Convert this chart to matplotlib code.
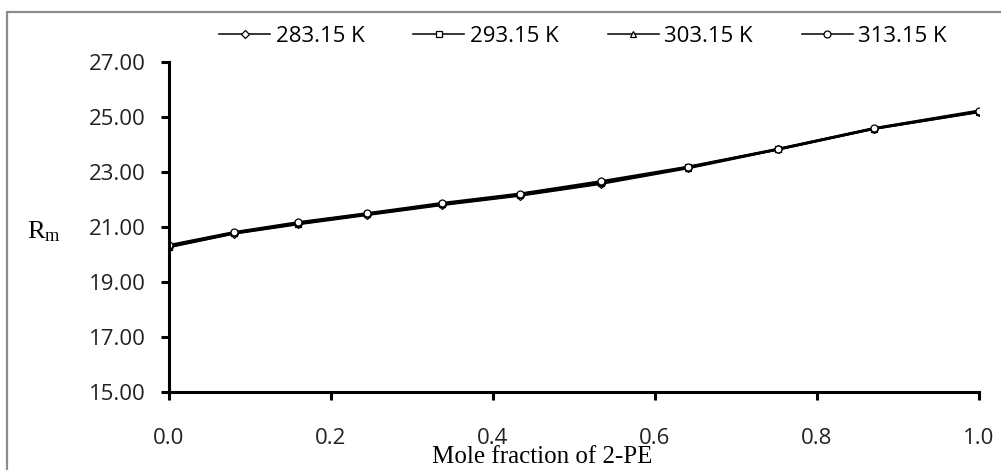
import matplotlib
matplotlib.use("Agg")
import matplotlib.pyplot as plt
from matplotlib.patches import Rectangle

plt.rcParams['mathtext.fontset'] = 'custom'
plt.rcParams['mathtext.rm'] = 'Liberation Serif'

# fraccion molar de 2-PE y R_m a cada temperatura
x = [0.0, 0.080, 0.159, 0.245, 0.337, 0.433, 0.533, 0.641, 0.752, 0.870, 1.0]
r_283 = [20.27, 20.76, 21.10, 21.44, 21.80, 22.14, 22.57, 23.14, 23.82, 24.57, 25.18]
r_293 = [20.28, 20.77, 21.12, 21.46, 21.82, 22.16, 22.59, 23.18, 23.82, 24.57, 25.19]
r_303 = [20.31, 20.79, 21.14, 21.48, 21.84, 22.19, 22.62, 23.16, 23.83, 24.58, 25.21]
r_313 = [20.34, 20.81, 21.17, 21.50, 21.87, 22.21, 22.66, 23.19, 23.84, 24.59, 25.23]
etiquetas = ['283.15 K', '293.15 K', '303.15 K', '313.15 K']
marcadores = ['D', 's', '^', 'o']
x_ticks = [0.0, 0.2, 0.4, 0.6, 0.8, 1.0]
y_ticks = [15, 17, 19, 21, 23, 25, 27]

fig = plt.figure(figsize=(10.01, 4.70), dpi=100)
ax = fig.add_axes([0.1688, 0.166, 0.809, 0.702])

# marco gris exterior
fig.patches.append(Rectangle((0.007, -0.05), 1.2, 1.024, transform=fig.transFigure,
                             fill=False, edgecolor='#8c8c8c', linewidth=1.6))

for serie, lab, m in zip([r_283, r_293, r_303, r_313], etiquetas, marcadores):
    ax.plot(x, serie, color='black', linewidth=1.7, marker=m,
            markersize=5 if m != 'D' else 4, markerfacecolor='white',
            markeredgecolor='black', markeredgewidth=0.9, label=lab)

ax.set_xlim(0, 1.0)
ax.set_ylim(15, 27)
ax.set_xticks(x_ticks)
ax.set_xticklabels([f'{v:.1f}' for v in x_ticks])
ax.set_yticks(y_ticks)
ax.set_yticklabels([f'{v:.2f}' for v in y_ticks])
for s in ['top', 'right']:
    ax.spines[s].set_visible(False)
for s in ['left', 'bottom']:
    ax.spines[s].set_linewidth(2.2)
ax.tick_params(axis='both', direction='out', length=6, width=2.2,
               labelsize=16, colors='black')
ax.tick_params(axis='y', pad=11)
ax.tick_params(axis='x', pad=20)
for t in ax.get_xticklabels() + ax.get_yticklabels():
    t.set_family('Open Sans')
    t.set_color('#222222')

# etiquetas de ejes
fig.text(542 / 1001, 1 - 463 / 470, 'Mole fraction of 2-PE', family='Liberation Serif',
         fontsize=18, ha='center', va='baseline')
fig.text(27 / 1001, 1 - 238 / 470, r'$\mathrm{R_m}$', fontsize=19,
         ha='left', va='baseline')

h, l = ax.get_legend_handles_labels()
leg = fig.legend(h, l, loc='center', bbox_to_anchor=(583 / 1001, 1 - 36 / 470), ncol=4,
                 frameon=False, prop={'family': 'Open Sans', 'size': 16},
                 handlelength=2.3, handletextpad=0.25, columnspacing=2.2,
                 borderpad=0, borderaxespad=0)
for ln in leg.get_lines():
    ln.set_linewidth(1.1)

fig.savefig('out.png', dpi=100)
